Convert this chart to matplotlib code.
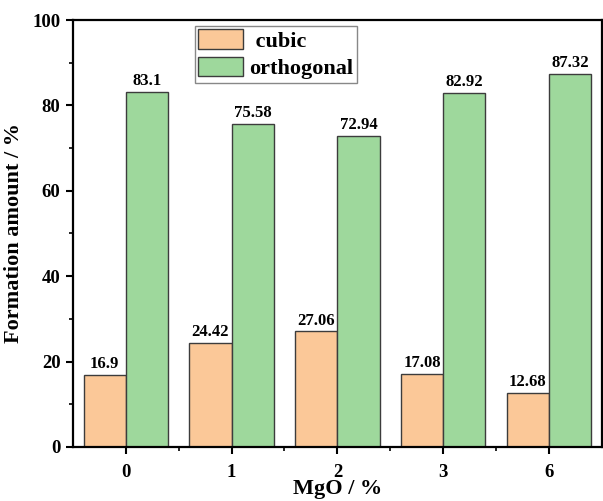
import matplotlib
matplotlib.use("Agg")
import matplotlib.pyplot as plt
import numpy as np
from matplotlib.ticker import MultipleLocator, FixedLocator

plt.rcParams['font.family'] = ['Liberation Serif', 'DejaVu Serif']
plt.rcParams['font.weight'] = 'bold'

# MgO content and phase share of each sample
mgo_labels = ['0', '1', '2', '3', '6']
cubic = [16.9, 24.42, 27.06, 17.08, 12.68]
orthogonal = [83.1, 75.58, 72.94, 82.92, 87.32]

cubic_color = '#fbc898'
ortho_color = '#9ed89c'
edge_color = '#3c3c3c'

fig = plt.figure(figsize=(6.03, 5.01), dpi=100)
ax = fig.add_axes([0.121, 0.108, 0.877, 0.852])

x = np.arange(len(mgo_labels))
w = 0.4
b1 = ax.bar(x - w / 2, cubic, w, color=cubic_color, edgecolor=edge_color, linewidth=1.0, label=' cubic')
b2 = ax.bar(x + w / 2, orthogonal, w, color=ortho_color, edgecolor=edge_color, linewidth=1.0, label='orthogonal')

for bars, vals in ((b1, cubic), (b2, orthogonal)):
    for rect, v in zip(bars, vals):
        ax.annotate(f'{v:g}', (rect.get_x() + rect.get_width() / 2, v),
                    xytext=(0, 2), textcoords='offset points',
                    ha='center', va='bottom', fontsize=12, fontweight='bold')

ax.set_xlim(-0.5, 4.5)
ax.set_ylim(0, 100)
ax.set_xticks(x)
ax.set_xticklabels(mgo_labels)
ax.xaxis.set_minor_locator(FixedLocator(x[:-1] + 0.5))
ax.yaxis.set_major_locator(MultipleLocator(20))
ax.yaxis.set_minor_locator(MultipleLocator(10))

ax.tick_params(axis='both', which='major', direction='out', length=5, width=1.5, labelsize=13.5)
ax.tick_params(axis='x', which='major', pad=7)
ax.tick_params(axis='y', which='major', pad=4)
ax.tick_params(axis='both', which='minor', direction='out', length=3, width=1.2)
for s in ax.spines.values():
    s.set_linewidth(1.6)

ax.set_xlabel('MgO / %', fontsize=16, fontweight='bold', labelpad=-1)
ax.set_ylabel('Formation amount / %', fontsize=16, fontweight='bold', labelpad=6)

leg = ax.legend(loc='upper left', bbox_to_anchor=(0.231, 0.986), fontsize=16,
                handlelength=2.0, handleheight=0.95, handletextpad=0.3,
                labelspacing=0.25, borderpad=0.15, borderaxespad=0.0,
                fancybox=False, framealpha=1.0)
leg.get_frame().set_edgecolor('#888888')
leg.get_frame().set_linewidth(1.0)

fig.savefig('out.png', dpi=100)
